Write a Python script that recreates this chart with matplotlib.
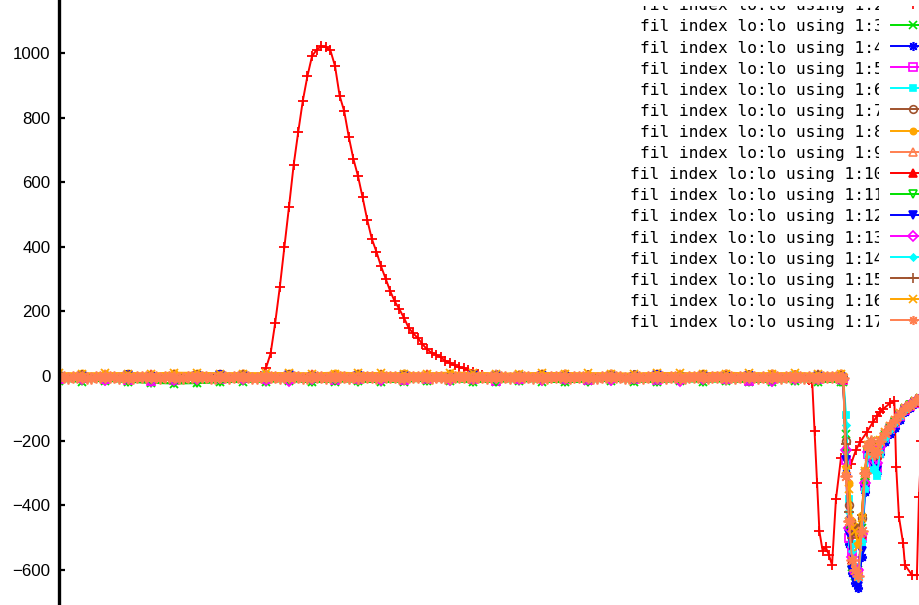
import numpy as np
import matplotlib
matplotlib.use("Agg")
import matplotlib.pyplot as plt
from matplotlib.lines import Line2D
from matplotlib.transforms import Bbox, TransformedBbox

# ---------------- data ----------------
# column 2: the pulse channel (x = sample position)
red_x = [0, 10, 20, 30, 40, 50, 60, 70, 80,
         88, 90, 92, 94, 96, 98, 100, 102, 104, 106, 108, 110, 112, 114, 116, 118,
         120, 122, 124, 126, 128, 130, 132, 134, 136, 138, 140, 142, 144, 146, 148,
         150, 152, 154, 156, 158, 160, 162, 164, 166, 168, 170, 172, 174, 176, 178,
         180, 182, 184,
         190, 200, 210, 220, 230, 240, 250, 260, 270, 280, 290, 300, 310, 320,
         326, 327.5, 328.5, 329.6, 330.6, 332, 333.4, 334.8, 336.1, 337.8, 340,
         344.3, 346.5, 348.3, 351.3, 353.9, 355.7, 357, 358.3, 361.3, 363.2,
         364, 365.2, 367, 367.8, 370.9, 373, 373.9, 375]
red_y = [1, -1, 2, 0, -2, 1, 3, 0, 2,
         0, 25, 70, 165, 275, 400, 524, 652, 755, 852, 928, 990, 1010, 1021, 1018, 1008,
         960, 868, 820, 740, 672, 619, 553, 484, 425, 385, 340, 302, 263, 231, 207,
         180, 150, 132, 118, 99, 83, 72, 66, 58, 47, 41, 33, 27, 24, 19,
         13, 8, 3,
         0, -2, 1, -3, -1, -4, -2, 0, -3, -5, -2, -4, -6, -3,
         -12, -20, -170, -331, -480, -540, -530, -555, -585, -381, -253,
         -273, -229, -204, -173, -142, -124, -111, -102, -84, -78,
         -282, -436, -517, -585, -616, -616, -375, -200]

# columns 3..16: baselines sampled every 10 positions from 0, then the dip
dip_x = [341, 342.2, 343.5, 344.8, 346.2, 347.6, 349, 350.4, 351.7, 353, 354.3,
         355.7, 357, 359, 361.2, 363.4, 365.6, 367.8, 370, 372.2, 374.4, 376.5]

c3_base = [-16, -17, -15, -18, -21, -23, -22, -19, -18, -17, -16, -19, -17, -16, -19, -17, -15, -16,
           -18, -17, -16, -17, -19, -16, -15, -17, -18, -16, -17, -16, -18, -17, -16, -17, -18]
c3_dip = [-18, -180, -430, -590, -620, -600, -470, -300, -215, -200, -235, -230, -200, -178, -158,
          -138, -116, -100, -88, -78, -68, -60]

c4_base = [3, -2, 4, 1, -3, 2, 6, 8, 5, -1, 2, 4, -2, 3, 0, 5, 1, -3, 2, 6, 4, -1, 3, 0, 2, 5, -2,
           1, 4, 0, 3, 6, -1, 2, 1]
c4_dip = [-10, -300, -520, -610, -640, -655, -560, -360, -250, -230, -280, -300, -240, -205, -180,
          -160, -135, -112, -98, -86, -74, -64]

c5_base = [-8, -6, -10, -13, -16, -11, -7, -9, -5, -10, -8, -6, -13, -9, -7, -11, -8, -5, -10, -14,
           -8, -6, -9, -11, -7, -8, -13, -10, -6, -9, -15, -8, -7, -10, -8]
c5_dip = [-12, -260, -500, -540, -600, -610, -500, -340, -240, -215, -270, -285, -225, -190, -165,
          -145, -122, -104, -92, -82, -72, -63]

c6_base = [-2, 0, -4, 2, -1, -3, 1, -2, 0, 3, -1, -4, 0, 2, -2, 1, -3, 0, -1, 2, 4, -2, 0, -3, 1,
           -1, 2, 0, -2, 1, -1, 0, 2, -3, -1]
c6_dip = [-8, -120, -380, -520, -590, -615, -520, -350, -240, -220, -290, -310, -240, -195, -168,
          -146, -124, -105, -93, -82, -71, -62]

c7_base = [2, 1, 3, 0, 4, 2, 1, 5, 3, 2, 0, 3, 4, 1, 2, 5, 3, 1, 2, 0, 3, 4, 2, 1, 3, 2, 4, 1, 0,
           3, 2, 1, 4, 2, 1]
c7_dip = [-5, -200, -400, -480, -470, -490, -440, -300, -220, -205, -240, -250, -210, -182, -160,
          -140, -118, -101, -90, -80, -70, -61]

c8_base = [8, 9, 7, 10, 8, 11, 9, 8, 10, 7, 9, 8, 11, 9, 7, 10, 8, 9, 11, 8, 7, 9, 10, 8, 9, 7, 10,
           8, 9, 11, 8, 9, 7, 8, 9]
c8_dip = [-4, -280, -330, -450, -465, -520, -430, -290, -210, -200, -230, -225, -195, -172, -152,
          -134, -114, -98, -87, -77, -67, -59]

c9_base = [5, 4, 6, 3, 7, 5, 4, 6, 8, 5, 3, 6, 4, 7, 5, 4, 6, 3, 5, 7, 4, 6, 5, 3, 6, 4, 5, 7, 4,
           6, 3, 5, 4, 6, 5]
c9_dip = [-6, -300, -440, -560, -590, -610, -480, -310, -220, -205, -245, -240, -205, -178, -158,
          -138, -117, -100, -88, -78, -68, -60]

c10_base = [0, -2, 1, -3, 2, 0, -1, 3, -2, 1, 0, 2, -1, -3, 1, 0, 2, -2, 1, -1, 0, 3, -2, 1, 0,
            -1, 2, 0, -2, 1, 0, -1, 2, -2, -3]
c10_dip = [-8, -220, -460, -570, -600, -620, -490, -320, -225, -210, -250, -245, -208, -182, -160,
           -140, -118, -101, -90, -80, -70, -61]

c11_base = [-15, -16, -14, -17, -20, -22, -21, -18, -16, -17, -15, -18, -16, -17, -19, -15, -14,
            -16, -18, -17, -15, -16, -19, -17, -15, -16, -18, -15, -17, -16, -18, -17, -15, -17, -18]
c11_dip = [-16, -240, -480, -600, -615, -630, -500, -330, -235, -212, -255, -255, -212, -185, -163,
           -142, -120, -102, -90, -80, -70, -61]

c12_base = [-3, 1, -5, 2, -2, -6, 0, 4, -1, -4, 2, -2, -5, 1, -3, 0, -6, -2, 3, -1, -4, 1, -3, -6,
            0, -2, 2, -4, -1, -3, 0, -5, -2, 1, -2]
c12_dip = [-9, -260, -490, -600, -630, -650, -540, -350, -245, -225, -275, -290, -235, -200, -175,
           -155, -130, -110, -96, -84, -73, -63]

c13_base = [-10, -8, -12, -7, -15, -11, -9, -6, -8, -11, -14, -9, -7, -10, -12, -8, -6, -11, -9, -7,
            -10, -12, -8, -9, -11, -7, -10, -14, -8, -9, -11, -15, -10, -8, -9]
c13_dip = [-11, -230, -470, -560, -605, -600, -490, -330, -235, -215, -260, -270, -220, -188, -164,
           -143, -121, -103, -91, -81, -71, -62]

c14_base = [-3, -1, -5, 0, -2, -4, -1, -3, 1, -2, -4, 0, -3, -1, -5, -2, 0, -3, -1, -4, -2, 0, -3,
            -1, -2, -4, 0, -2, -3, -1, -2, 0, -4, -2, -3]
c14_dip = [-7, -150, -420, -540, -600, -625, -510, -345, -240, -222, -285, -300, -235, -192, -167,
           -145, -123, -104, -92, -81, -71, -62]

c15_base = [1, 3, 0, 2, -1, 2, 4, 1, 3, 0, 2, 1, -1, 3, 2, 0, 1, 3, 2, -1, 1, 2, 0, 3, 1, 2, -1, 1,
            3, 0, 2, 1, 0, 2, 1]
c15_dip = [-5, -210, -420, -500, -460, -480, -430, -300, -218, -205, -238, -245, -208, -180, -158,
           -139, -117, -100, -89, -79, -69, -60]

c16_base = [9, 7, 10, 8, 6, 9, 11, 8, 7, 10, 9, 8, 6, 9, 10, 7, 8, 11, 9, 7, 8, 10, 6, 9, 8, 7, 10,
            9, 8, 6, 9, 8, 10, 7, 8]
c16_dip = [-3, -290, -350, -470, -480, -530, -440, -295, -212, -200, -232, -228, -197, -174, -154,
           -135, -115, -99, -88, -78, -68, -60]

# column 17 is recorded on a finer grid (every 2 positions)
c17_base = [-4, -3, -5, -4, -2, -3, -5, -6, -4, -3, -4, -2, -3, -5, -4, -6, -5, -3, -4, -2,
            -3, -4, -5, -3, -2, -4, -6, -5, -4, -3, -2, -4, -3, -5, -6, -4, -3, -5, -4, -2,
            -3, -4, -6, -5, -3, -4, -2, -3, -5, -4, -3, -2, -4, -5, -6, -4, -3, -4, -5, -3,
            -2, -4, -3, -5, -4, -6, -3, -2, -4, -5, -3, -4, -2, -3, -5, -6, -4, -3, -4, -2,
            -3, -5, -4, -3, -6, -5, -4, -2, -3, -4, -5, -3, -4, -6, -4, -3, -2, -4, -5, -3,
            -4, -2, -3, -5, -4, -6, -5, -3, -2, -4, -3, -5, -4, -3, -2, -4, -6, -5, -3, -4,
            -2, -3, -4, -5, -6, -4, -3, -5, -4, -2, -3, -4, -5, -3, -4, -6, -5, -3, -2, -4,
            -3, -5, -4, -2, -3, -6, -4, -5, -3, -4, -2, -3, -5, -4, -6, -3, -4, -5, -3, -2,
            -4, -3, -5, -4, -6, -5, -3, -4, -2, -3, -5]
c17_dip = [-5, -310, -450, -570, -600, -620, -480, -300, -215, -200, -240, -235, -202, -176, -156,
           -136, -116, -99, -88, -78, -68, -60]

columns = list(range(2, 18))
legend_labels = ["fil index lo:lo using 1:%d" % c for c in columns]
y_ticks = [-600, -400, -200, 0, 200, 400, 600, 800, 1000]

# ---------------- assemble series ----------------
def join(base, dip, step):
    x = list(np.arange(len(base)) * step) + dip_x
    return np.array(x, float), np.array(list(base) + list(dip), float)

series = [(np.array(red_x, float), np.array(red_y, float))]
for b, d in [(c3_base, c3_dip), (c4_base, c4_dip), (c5_base, c5_dip), (c6_base, c6_dip),
             (c7_base, c7_dip), (c8_base, c8_dip), (c9_base, c9_dip), (c10_base, c10_dip),
             (c11_base, c11_dip), (c12_base, c12_dip), (c13_base, c13_dip),
             (c14_base, c14_dip), (c15_base, c15_dip), (c16_base, c16_dip)]:
    series.append(join(b, d, 10))
series.append(join(c17_base, c17_dip, 2))

# gnuplot-like line colours and point types
GREEN = "#00e000"
CORAL = "#ff7f50"
STAR = (8, 2, 0)
styles = [
    ("#ff0000", "+", "full", 7.0),
    (GREEN, "x", "full", 6.0),
    ("#0000ff", STAR, "full", 6.5),
    ("#ff00ff", "s", "none", 5.5),
    ("#00ffff", "s", "full", 5.0),
    ("#a0522d", "o", "none", 5.5),
    ("#ffa500", "o", "full", 4.5),
    (CORAL, "^", "none", 6.0),
    ("#ff0000", "^", "full", 5.5),
    (GREEN, "v", "none", 6.0),
    ("#0000ff", "v", "full", 5.5),
    ("#ff00ff", "D", "none", 5.0),
    ("#00ffff", "D", "full", 3.5),
    ("#a0522d", "+", "full", 6.5),
    ("#ffa500", "x", "full", 6.0),
    (CORAL, STAR, "full", 6.5),
]
# point size on the curves (the dense coral trace uses larger stars)
plot_ms = [7.0, 6.0, 6.5, 5.5, 5.0, 5.5, 4.5, 6.0, 5.5, 6.0, 5.5, 5.0, 3.5, 6.5, 6.0, 8.5]

# ---------------- figure ----------------
W, H = 920, 605
AX_LEFT = 59
PX_PER_UNIT = 2.3
fig = plt.figure(figsize=(W / 100, H / 100), dpi=100)
fig.patch.set_facecolor("white")
ax = fig.add_axes([AX_LEFT / W, 0, 1 - AX_LEFT / W, 1])
ax.set_xlim(0, (W - AX_LEFT) / PX_PER_UNIT)
ax.set_ylim(-708.5, 1164)

for (x, y), (col, mk, fs, _), ms in zip(series, styles, plot_ms):
    ax.plot(x, y, color=col, lw=1.4, marker=mk, ms=ms, mew=1.3, fillstyle=fs,
            solid_joinstyle="miter")

for side in ("top", "right", "bottom"):
    ax.spines[side].set_visible(False)
ax.spines["left"].set_linewidth(2.4)
ax.spines["left"].set_zorder(5)
ax.set_xticks([])
ax.set_yticks(y_ticks)
ax.set_yticklabels([str(v).replace("-", "\u2212") for v in y_ticks])
ax.tick_params(axis="y", direction="in", length=4.5, width=1.6, pad=6,
               labelsize=12.2, labelfontfamily="Liberation Sans")

# ---------------- key (top right) ----------------
text_clip = TransformedBbox(Bbox.from_extents(0, 0, 879.5 / W, 1 - 6 / H), fig.transFigure)
line_clip = TransformedBbox(Bbox.from_extents(0, 0, 1, 1 - 6 / H), fig.transFigure)

for i, ((col, mk, fs, ms), lab) in enumerate(zip(styles, legend_labels)):
    yl = 25 + 21.1 * (i - 1)
    t = fig.text(883.5 / W, 1 - (yl + 6.5) / H, lab, ha="right", va="baseline",
                 family="DejaVu Sans Mono", size=11.6, color="black")
    t.set_clip_box(text_clip)
    t.set_clip_on(True)
    ln = Line2D([890.7 / W, 945 / W], [1 - yl / H] * 2, transform=fig.transFigure,
                color=col, lw=1.4)
    pt = Line2D([913.3 / W], [1 - yl / H], transform=fig.transFigure, color=col,
                marker=mk, ms=ms, mew=1.2, fillstyle=fs, lw=0)
    for a in (ln, pt):
        a.set_clip_box(line_clip)
        a.set_clip_on(True)
        fig.add_artist(a)

fig.savefig("out.png", dpi=100, facecolor="white")
